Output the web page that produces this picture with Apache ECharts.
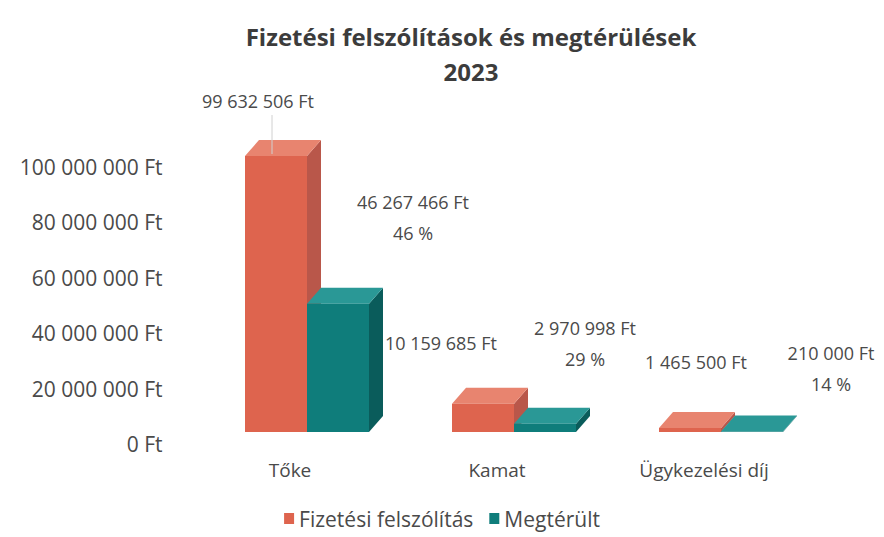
<!DOCTYPE html>
<html>
<head>
<meta charset="utf-8">
<script src="https://cdn.jsdelivr.net/npm/echarts@6/dist/echarts.min.js"></script>
<style>html,body{margin:0;padding:0;background:#fff}#c{width:884px;height:537px}</style>
</head>
<body>
<div id="c"></div>
<script>
var categories = ['Tőke', 'Kamat', 'Ügykezelési díj'];
var fizetesi = [99632506, 10159685, 1465500];
var megterult = [46267466, 2970998, 210000];
var seriesNames = ['Fizetési felszólítás', 'Megtérült'];
var yMax = 100000000, yInterval = 20000000;

// label placement (style): offsets from the top-front-centre of each bar
var redLabelOffsets = [[-18, -55], [-42, -61], [6, -66]];
var tealLabelOffsets = [[75, -86], [40, -80], [79, -63]];

var FONT = '"Open Sans", Lato, sans-serif';
var TXT = '#4a4a4a';

function fmt(v) {
  return String(Math.round(v)).replace(/\B(?=(\d{3})+(?!\d))/g, ' ') + ' Ft';
}

var BAR_W = 62, DX = 14, DY = -16, FLOOR_SHIFT = -12;
var palette = [
  {front: '#de644e', top: '#e8846f', side: '#b9574a'},
  {front: '#0f7d7b', top: '#2a9896', side: '#0a5c5b'}
];

function makeRender(sIdx) {
  return function (params, api) {
    var ci = api.value(0), v = api.value(1);
    var top = api.coord([ci, v]);
    var base = api.coord([ci, 0]);
    var x0 = top[0] - 45 + sIdx * BAR_W;
    var x1 = x0 + BAR_W;
    var yT = top[1] + FLOOR_SHIFT, yB = base[1] + FLOOR_SHIFT;
    var c = palette[sIdx];
    var children = [
      {type: 'polygon', shape: {points: [[x1, yB], [x1 + DX, yB + DY], [x1 + DX, yT + DY], [x1, yT]]}, style: {fill: c.side}},
      {type: 'polygon', shape: {points: [[x0, yT], [x0 + DX, yT + DY], [x1 + DX, yT + DY], [x1, yT]]}, style: {fill: c.top}},
      {type: 'rect', shape: {x: x0, y: yT, width: BAR_W, height: yB - yT}, style: {fill: c.front}}
    ];
    var off = sIdx === 0 ? redLabelOffsets[ci] : tealLabelOffsets[ci];
    var cx = (x0 + x1) / 2;
    var lx = cx + off[0], ly = yT + off[1];
    var txt;
    if (sIdx === 0) {
      txt = fmt(v);
    } else {
      txt = fmt(v) + '\n' + Math.round(v / fizetesi[ci] * 100) + ' %';
    }
    if (sIdx === 0 && ci === 0) {
      children.push({type: 'line', shape: {x1: cx - 4, y1: yT - 2, x2: cx - 4, y2: ly + 14}, style: {stroke: '#d0d0d0', lineWidth: 1}});
    }
    children.push({
      type: 'text',
      style: {
        x: lx, y: ly, text: txt, fill: TXT, font: '18px ' + FONT,
        align: 'center', verticalAlign: 'middle', lineHeight: 31
      }
    });
    return {type: 'group', children: children};
  };
}

function buildData(arr) {
  return arr.map(function (v, i) { return [i, v]; });
}

var chart = echarts.init(document.getElementById('c'), null, {renderer: 'svg'});
chart.setOption({
  backgroundColor: '#fff',
  animation: false,
  title: {
    text: 'Fizetési felszólítások és megtérülések\n2023',
    left: 466, top: 14, textAlign: 'center',
    textStyle: {fontFamily: FONT, fontSize: 24, fontWeight: 'bold', color: '#3c3c3c', lineHeight: 35}
  },
  legend: {
    bottom: 3, left: 'center', itemWidth: 10, itemHeight: 11, itemGap: 16, itemTextGap: 3,
    icon: 'rect',
    textStyle: {fontFamily: FONT, fontSize: 21, color: TXT},
    data: seriesNames
  },
  grid: {left: 186.5, right: 76.5, top: 167, bottom: 93},
  xAxis: {
    type: 'category', data: categories,
    axisLine: {show: false}, axisTick: {show: false},
    axisLabel: {fontFamily: FONT, fontSize: 19, color: TXT, margin: 16}
  },
  yAxis: {
    type: 'value', min: 0, max: yMax, interval: yInterval,
    splitLine: {show: false}, axisLine: {show: false}, axisTick: {show: false},
    axisLabel: {fontFamily: FONT, fontSize: 21, color: TXT, margin: 24,
      formatter: function (v) { return fmt(v); }}
  },
  series: [
    {name: seriesNames[0], type: 'custom', renderItem: makeRender(0), data: buildData(fizetesi),
      itemStyle: {color: palette[0].front}, encode: {x: 0, y: 1}},
    {name: seriesNames[1], type: 'custom', renderItem: makeRender(1), data: buildData(megterult),
      itemStyle: {color: palette[1].front}, encode: {x: 0, y: 1}}
  ]
});
</script>
</body>
</html>
